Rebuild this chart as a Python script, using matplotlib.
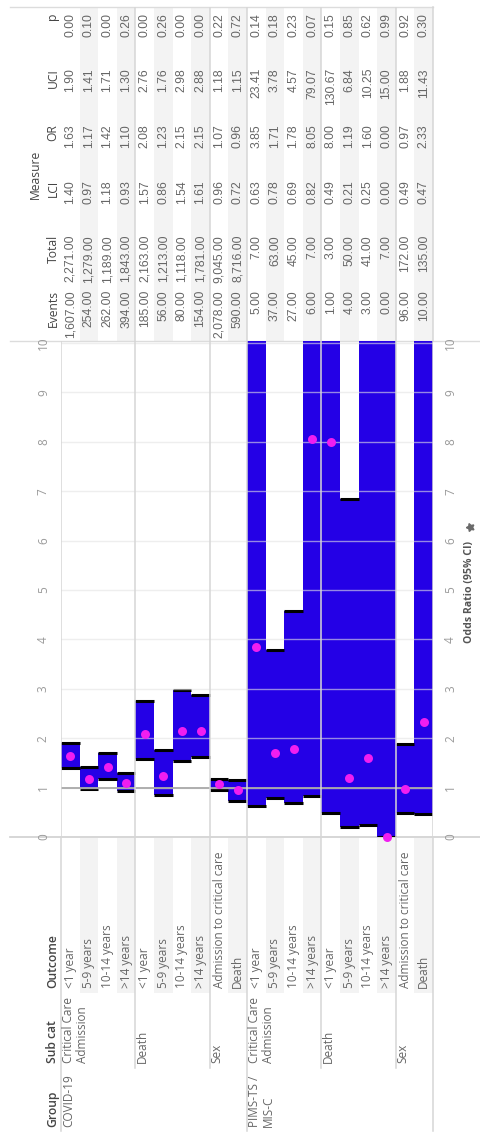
import numpy as np
import matplotlib
matplotlib.use("Agg")
import matplotlib.pyplot as plt
from matplotlib.transforms import blended_transform_factory
from matplotlib.patches import Rectangle

# ---- data ----
groups = ["COVID-19"] * 10 + ["PIMS-TS /\nMIS-C"] * 10
subcats = (["Critical Care\nAdmission"] * 4 + ["Death"] * 4 + ["Sex"] * 2) * 2
outcomes = ["<1 year", "5-9 years", "10-14 years", ">14 years"] * 2 + \
           ["Admission to critical care", "Death"]
outcomes = outcomes * 2

events = [1607, 254, 262, 394, 185, 56, 80, 154, 2078, 590,
          5, 37, 27, 6, 1, 4, 3, 0, 96, 10]
totals = [2271, 1279, 1189, 1843, 2163, 1213, 1118, 1781, 9045, 8716,
          7, 63, 45, 7, 3, 50, 41, 7, 172, 135]
lci = [1.40, 0.97, 1.18, 0.93, 1.57, 0.86, 1.54, 1.61, 0.96, 0.72,
       0.63, 0.78, 0.69, 0.82, 0.49, 0.21, 0.25, 0.00, 0.49, 0.47]
odds = [1.63, 1.17, 1.42, 1.10, 2.08, 1.23, 2.15, 2.15, 1.07, 0.96,
        3.85, 1.71, 1.78, 8.05, 8.00, 1.19, 1.60, 0.00, 0.97, 2.33]
uci = [1.90, 1.41, 1.71, 1.30, 2.76, 1.76, 2.98, 2.88, 1.18, 1.15,
       23.41, 3.78, 4.57, 79.07, 130.67, 6.84, 10.25, 15.00, 1.88, 11.43]
pval = [0.00, 0.10, 0.00, 0.26, 0.00, 0.26, 0.00, 0.00, 0.22, 0.72,
        0.14, 0.18, 0.23, 0.07, 0.15, 0.85, 0.62, 0.99, 0.92, 0.30]

measure_cols = ["Events", "Total", "LCI", "OR", "UCI", "p"]
measure_vals = [events, totals, lci, odds, uci, pval]

BLUE = "#2400e6"
PINK = "#f01ef0"
LINE = "#d6d6d6"
BAND = "#f3f3f3"
TXT = "#666666"
HDR = "#444444"
FONT = "Open Sans"
NUMFONT = "Liberation Sans"

W, H = 481, 1134
fig = plt.figure(figsize=(W / 100, H / 100), dpi=100)
fig.patch.set_facecolor("white")

# pixel-space overlay for headers and borders
bg = fig.add_axes([0, 0, 1, 1], zorder=0)
bg.set_xlim(0, W)
bg.set_ylim(H, 0)
bg.axis("off")

# odds ratio pane
ax = fig.add_axes([61 / W, 1 - 837 / H, 372 / W, 496 / H], zorder=1)
ax.patch.set_alpha(0)
n = len(events)
idx = np.arange(n)
ymax = 10.04
ax.set_xlim(-0.5, n - 0.5)
ax.set_ylim(0, ymax)
for s in ax.spines.values():
    s.set_visible(False)

lo = np.array(lci)
hi = np.array(uci)
top = np.minimum(hi, ymax)
ax.bar(idx, top - lo, bottom=lo, width=1.0, color=BLUE, zorder=2, linewidth=0)
ax.hlines(lo, idx - 0.5, idx + 0.5, color="black", lw=2.2, zorder=3)
shown = hi <= 10
ax.hlines(hi[shown], idx[shown] - 0.5, idx[shown] + 0.5, color="black", lw=2.2, zorder=3)

# gridlines over the bars
for v in range(1, 11):
    ax.axhline(v, color="#e4e4e4", lw=1.0, alpha=0.6, zorder=3.5)
ax.axhline(1, color="#a9a9a9", lw=1.3, zorder=4)

ax.scatter(idx, odds, s=42, color=PINK, zorder=5, clip_on=False, linewidths=0)

# pane separators
keys = list(zip(groups, subcats))
sub_breaks = [i + 0.5 for i in range(n - 1) if keys[i] != keys[i + 1]]
grp_breaks = [i + 0.5 for i in range(n - 1) if groups[i] != groups[i + 1]]
for xb in [-0.5] + sub_breaks + [n - 0.5]:
    ax.axvline(xb, color=LINE, lw=1.1, zorder=4)

ax.set_xticks([])
ax.set_yticks(range(11))
ax.set_yticklabels([str(v) for v in range(11)], rotation=90, va="center",
                   color="#9a9a9a", fontsize=8.5, family=FONT)
ax.tick_params(axis="y", length=0, pad=8, labelright=True)

tr = blended_transform_factory(ax.transData, bg.transData)

# zero axis line and table edges
bg.plot([10, W], [837, 837], color="#cfcfcf", lw=1.2)
bg.plot([10, W], [341, 341], color="#dcdcdc", lw=1.0)
bg.plot([10, 433], [7, 7], color="#dcdcdc", lw=1.0)

# alternating row bands (table and outcome column)
for i in range(1, n, 2):
    bg.add_patch(Rectangle((i - 0.5, 8), 1, 333, transform=tr,
                           facecolor=BAND, edgecolor="none", zorder=0))
    bg.add_patch(Rectangle((i - 0.5, 838), 1, 155, transform=tr,
                           facecolor=BAND, edgecolor="none", zorder=0))

# separators in table and row header area
for xb in sub_breaks:
    bg.plot([xb, xb], [8, 341], color=LINE, lw=1.1, transform=tr)
    y_end = 1131 if xb in grp_breaks else 1068
    bg.plot([xb, xb], [837, y_end], color=LINE, lw=1.1, transform=tr)
bg.plot([n - 0.5, n - 0.5], [7, 341], color=LINE, lw=1.1, transform=tr)
for xb in [-0.5, n - 0.5]:
    bg.plot([xb, xb], [837, 1131], color=LINE, lw=1.1, transform=tr)

rot = dict(rotation=90, rotation_mode="anchor")

# measure table
col_end = [290, 235, 180, 124, 68, 13]
for name, vals, ye in zip(measure_cols, measure_vals, col_end):
    bg.text(53, ye, name, ha="right", va="center", color=HDR, fontsize=8.7,
            family=FONT, **rot)
    for i, v in enumerate(vals):
        bg.text(i, ye, f"{v:,.2f}", ha="right", va="center", color=TXT,
                fontsize=8.7, family=NUMFONT, transform=tr, **rot)
bg.text(35, 174, "Measure", ha="center", va="center", color=HDR,
        fontsize=8.7, family=FONT, **rot)

# row headers
hdr_start = {"Group": 1127, "Sub cat": 1063, "Outcome": 988}
for name, ys in hdr_start.items():
    bg.text(53, ys, name, ha="left", va="center", color=HDR, fontsize=8.7,
            fontweight="semibold", family=FONT, **rot)

for i, lab in enumerate(outcomes):
    bg.text(i, 988, lab, ha="left", va="center", color=TXT, fontsize=8.5,
            family=FONT, transform=tr, **rot)
for i in range(n):
    if i == 0 or keys[i] != keys[i - 1]:
        bg.text(i - 0.45, 1063, subcats[i], ha="left", va="top", color=TXT,
                fontsize=8.5, linespacing=1.1, family=FONT, transform=tr, **rot)
    if i == 0 or groups[i] != groups[i - 1]:
        bg.text(i - 0.45, 1127, groups[i], ha="left", va="top", color=TXT,
                fontsize=8.5, linespacing=1.1, family=FONT, transform=tr, **rot)

# value axis title with pin
bg.text(470, 643, "Odds Ratio (95% CI)", ha="left", va="center",
        color="#555555", fontsize=7.6, fontweight="bold", family=FONT, **rot)
bg.plot([470], [527], marker=(5, 1, 20), color="#6a6a6a", markersize=6)

fig.savefig("out.png", dpi=100, facecolor="white")
